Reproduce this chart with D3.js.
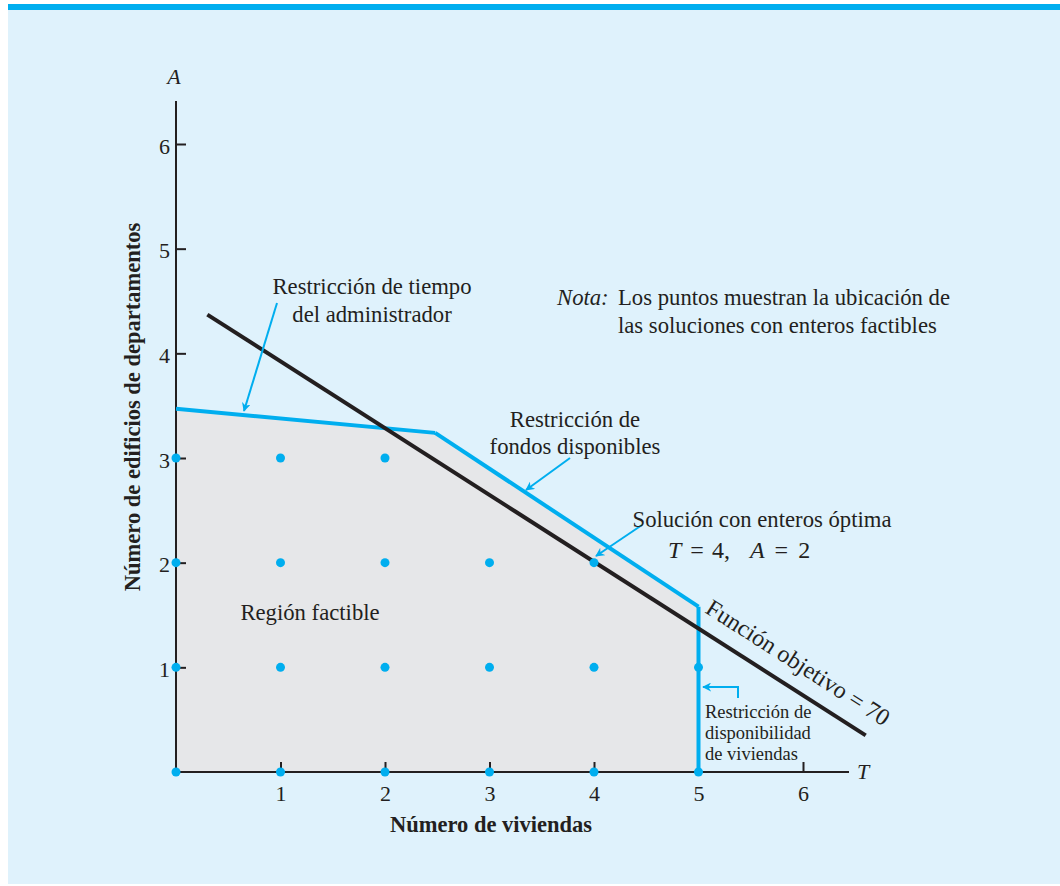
<!DOCTYPE html>
<html>
<head>
<meta charset="utf-8">
<script src="https://cdn.jsdelivr.net/npm/d3@7"></script>
<style>
  body { margin: 0; background: #fff; }
  text { font-family: "Liberation Serif", "DejaVu Serif", serif; fill: #231f20; }
</style>
</head>
<body>
<svg id="chart" width="1060" height="886"></svg>
<script>
// data
var xTicks = [1, 2, 3, 4, 5, 6];
var yTicks = [1, 2, 3, 4, 5, 6];
var feasibleRegion = [[0, 0], [0, 3.47], [2.48, 3.24], [5, 1.58], [5, 0]];
var timeConstraint = [[0, 3.47], [2.48, 3.24]];
var fundsConstraint = [[2.48, 3.24], [5, 1.58]];
var housingConstraint = [[5, 1.58], [5, 0]];
var objectiveLine = [[0.3, 4.37], [6.6, 0.35]];
var integerPoints = [
  [0, 0], [1, 0], [2, 0], [3, 0], [4, 0], [5, 0],
  [0, 1], [1, 1], [2, 1], [3, 1], [4, 1], [5, 1],
  [0, 2], [1, 2], [2, 2], [3, 2], [4, 2],
  [0, 3], [1, 3], [2, 3]
];

var blue = '#00aeef', dark = '#231f20';

var svg = d3.select('#chart');

svg.append('rect').attr('x', 8).attr('y', 4).attr('width', 1052).attr('height', 880).style('fill', '#dff2fc');
svg.append('rect').attr('x', 8).attr('y', 4).attr('width', 1052).attr('height', 6).style('fill', blue);

var x = d3.scaleLinear().domain([0, 6]).range([176, 803]);
var y = d3.scaleLinear().domain([0, 6]).range([772, 144]);

var line = d3.line().x(d => x(d[0])).y(d => y(d[1]));

svg.append('defs').append('marker')
  .attr('id', 'head')
  .attr('viewBox', '0 0 10 10')
  .attr('refX', 9).attr('refY', 5)
  .attr('markerWidth', 4.5).attr('markerHeight', 4.5)
  .attr('markerUnits', 'strokeWidth')
  .attr('orient', 'auto')
  .append('path')
  .attr('d', 'M0,0 L10,5 L0,10 L3,5 Z')
  .style('fill', blue);

// feasible region
svg.append('path')
  .datum(feasibleRegion)
  .attr('d', d => line(d) + 'Z')
  .style('fill', '#e6e7e9');

// axes
var xaxis = svg.append('g')
  .attr('transform', 'translate(0,' + y(0) + ')')
  .call(d3.axisBottom(x).tickValues(xTicks).tickFormat(d3.format('d')).tickSize(-10).tickPadding(13).tickSizeOuter(0));
xaxis.select('.domain').attr('d', 'M' + x(0) + ',0H849');

var yaxis = svg.append('g')
  .attr('transform', 'translate(' + x(0) + ',0)')
  .call(d3.axisLeft(y).tickValues(yTicks).tickFormat(d3.format('d')).tickSize(-10).tickPadding(6).tickSizeOuter(0));
yaxis.select('.domain').attr('d', 'M0,' + y(0) + 'V101');

svg.selectAll('.domain, .tick line').style('stroke', dark).style('stroke-width', 2);
svg.selectAll('.tick text')
  .attr('font-family', null).attr('font-size', null)
  .style('font-family', '"Liberation Serif", serif').style('font-size', '22px').style('fill', dark);
xaxis.selectAll('.tick text').attr('dy', '0.71em');
yaxis.selectAll('.tick text').attr('dy', '0.42em');

svg.append('text').attr('x', 174).attr('y', 84).attr('text-anchor', 'middle')
  .style('font-style', 'italic').style('font-size', '22px').text('A');
svg.append('text').attr('x', 863).attr('y', 779).attr('text-anchor', 'middle')
  .style('font-style', 'italic').style('font-size', '22px').text('T');

svg.append('text')
  .attr('transform', 'translate(140,407) rotate(-90)')
  .attr('text-anchor', 'middle')
  .style('font-weight', 'bold').style('font-size', '22.5px')
  .text('Número de edificios de departamentos');
svg.append('text').attr('x', 491).attr('y', 832).attr('text-anchor', 'middle')
  .style('font-weight', 'bold').style('font-size', '22.5px')
  .text('Número de viviendas');

// constraint lines
[timeConstraint, fundsConstraint, housingConstraint].forEach(function (seg) {
  svg.append('path').datum(seg).attr('d', line)
    .style('fill', 'none').style('stroke', blue).style('stroke-width', 4).style('stroke-linejoin', 'miter');
});

// objective
svg.append('path').datum(objectiveLine).attr('d', line)
  .style('fill', 'none').style('stroke', dark).style('stroke-width', 4);

// integer points
svg.selectAll('.pt')
  .data(integerPoints)
  .enter()
  .append('circle')
  .attr('class', 'pt')
  .attr('cx', d => x(d[0]))
  .attr('cy', d => y(d[1]))
  .attr('r', 4.5)
  .style('fill', blue);

// annotation arrows
function arrow(pts) {
  svg.append('path')
    .attr('d', d3.line()(pts))
    .attr('marker-end', 'url(#head)')
    .style('fill', 'none').style('stroke', blue).style('stroke-width', 2);
}
arrow([[277, 303], [244, 411]]);
arrow([[570, 458], [526, 490]]);
arrow([[642, 525], [596, 556]]);
arrow([[738, 698], [738, 687], [703, 687]]);

function label(lines, xPos, yPos, size, anchor, gap) {
  var t = svg.append('text').attr('x', xPos).attr('y', yPos)
    .attr('text-anchor', anchor).style('font-size', size + 'px');
  lines.forEach(function (s, i) {
    t.append('tspan').attr('x', xPos).attr('dy', i === 0 ? 0 : gap).text(s);
  });
  return t;
}

label(['Restricción de tiempo', 'del administrador'], 372, 294, 22.7, 'middle', 28);
label(['Restricción de', 'fondos disponibles'], 575, 427, 22.7, 'middle', 27);
label(['Solución con enteros óptima'], 762, 527, 22.7, 'middle', 0);
label(['Región factible'], 310, 620, 22.7, 'middle', 0);
label(['Restricción de', 'disponibilidad', 'de viviendas'], 705, 718, 18.5, 'start', 21);

var eq = svg.append('text').attr('x', 668).attr('y', 558).style('font-size', '24px');
eq.append('tspan').style('font-style', 'italic').text('T');
eq.append('tspan').attr('dx', 9).text('=');
eq.append('tspan').attr('dx', 8).text('4,');
eq.append('tspan').attr('dx', 20).style('font-style', 'italic').text('A');
eq.append('tspan').attr('dx', 10).text('=');
eq.append('tspan').attr('dx', 10).text('2');

var nota = svg.append('text').attr('x', 557).attr('y', 305).style('font-size', '22.7px');
nota.append('tspan').style('font-style', 'italic').text('Nota:');
nota.append('tspan').attr('x', 618).text('Los puntos muestran la ubicación de');
svg.append('text').attr('x', 618).attr('y', 333).style('font-size', '22.7px')
  .text('las soluciones con enteros factibles');

// objective label along the line
var ang = Math.atan2(y(objectiveLine[1][1]) - y(objectiveLine[0][1]), x(objectiveLine[1][0]) - x(objectiveLine[0][0])) * 180 / Math.PI;
svg.append('text')
  .attr('transform', 'translate(' + 704 + ',' + 612 + ') rotate(' + ang + ')')
  .style('font-size', '24px')
  .text('Función objetivo = 70');
</script>
</body>
</html>
